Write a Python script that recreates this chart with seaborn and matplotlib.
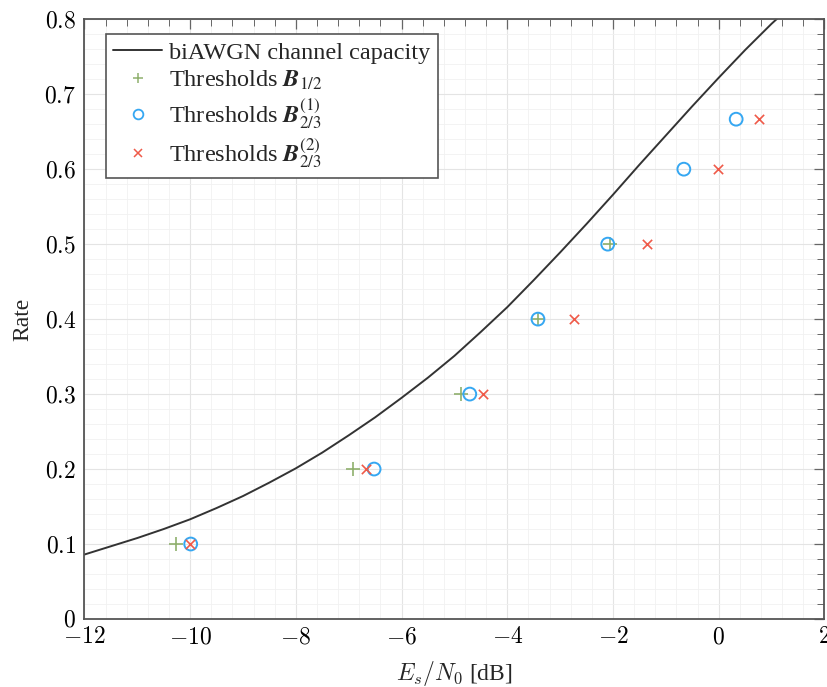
import numpy as np
import seaborn as sns
import matplotlib.pyplot as plt
from matplotlib.lines import Line2D
from matplotlib.font_manager import FontProperties
from matplotlib.ticker import MultipleLocator, FuncFormatter

# biAWGN channel capacity
cap_snr = [-12, -11.5, -11, -10.5, -10, -9.5, -9, -8.5, -8, -7.5, -7, -6.5,
           -6, -5.5, -5, -4.5, -4, -3.5, -3, -2.5, -2, -1.5, -1, -0.5,
           0, 0.5, 1, 1.5, 2]
cap_rate = [0.086, 0.097, 0.108, 0.120, 0.133, 0.148, 0.164, 0.182, 0.201,
            0.222, 0.245, 0.269, 0.295, 0.322, 0.351, 0.383, 0.416, 0.452,
            0.489, 0.527, 0.566, 0.606, 0.645, 0.684, 0.722, 0.759, 0.794,
            0.826, 0.856]

# decoding thresholds
b12_snr = [-10.27, -6.92, -4.88, -3.42, -2.06]
b12_rate = [0.1, 0.2, 0.3, 0.4, 0.5]
b23a_snr = [-9.99, -6.52, -4.71, -3.42, -2.10, -0.66, 0.33]
b23a_rate = [0.1, 0.2, 0.3, 0.4, 0.5, 0.6, 2 / 3]
b23b_snr = [-10.0, -6.67, -4.46, -2.74, -1.36, -0.01, 0.76]
b23b_rate = [0.1, 0.2, 0.3, 0.4, 0.5, 0.6, 2 / 3]

green = '#8fb06d'
blue = '#35a7f2'
red = '#ef5a49'

sns.set_style('white')
plt.rcParams['font.family'] = ['Liberation Serif', 'DejaVu Serif']
plt.rcParams['mathtext.fontset'] = 'cm'

fig = plt.figure(figsize=(8.28, 6.87), dpi=100)
ax = fig.add_axes([0.102, 0.099, 0.8937, 0.873])

sns.lineplot(x=cap_snr, y=cap_rate, ax=ax, color='#333333', lw=1.4,
             sort=False, estimator=None, legend=False)
sns.scatterplot(x=b12_snr, y=b12_rate, ax=ax, marker='+', color=green,
                s=90, linewidth=1.2, zorder=5, legend=False)
sns.scatterplot(x=b23a_snr, y=b23a_rate, ax=ax, marker='o', fc='none',
                ec=blue, s=85, linewidth=1.4, zorder=6, legend=False)
sns.scatterplot(x=b23b_snr, y=b23b_rate, ax=ax, marker='x', color=red,
                s=45, linewidth=1.2, zorder=7, legend=False)

ax.set_xlim(-12, 2)
ax.set_ylim(0, 0.8)
ax.xaxis.set_major_locator(MultipleLocator(2))
ax.xaxis.set_minor_locator(MultipleLocator(0.4))
ax.yaxis.set_major_locator(MultipleLocator(0.1))
ax.yaxis.set_minor_locator(MultipleLocator(0.02))


def fmt(v, pos):
    s = '0' if abs(v) < 1e-9 else f'{v:g}'
    return '$' + s + '$'


ax.xaxis.set_major_formatter(FuncFormatter(fmt))
ax.yaxis.set_major_formatter(FuncFormatter(fmt))

ax.grid(which='major', color='#e4e4e4', lw=0.8)
ax.grid(which='minor', color='#f1f1f1', lw=0.6)
ax.set_axisbelow(True)
ax.tick_params(which='both', direction='in', top=True, right=True,
               colors='#666666', labelcolor='black', labelsize=17)
ax.tick_params(which='major', length=7, width=0.9, pad=6)
ax.tick_params(which='minor', length=5, width=0.7)
for sp in ax.spines.values():
    sp.set_color('#555555')
    sp.set_linewidth(1.3)

ax.set_xlabel('$E_s/N_0$ [dB]', fontsize=17, labelpad=8)
ax.set_ylabel('Rate', fontsize=17, labelpad=8)

handles = [
    Line2D([0], [0], color='#333333', lw=1.4),
    Line2D([0], [0], ls='none', marker='+', color=green, ms=7, mew=1.1),
    Line2D([0], [0], ls='none', marker='o', mfc='none', mec=blue, ms=7,
           mew=1.3),
    Line2D([0], [0], ls='none', marker='x', color=red, ms=5.5, mew=1.1),
]
labels = [
    'biAWGN channel capacity',
    r'Thresholds $\boldsymbol{B}_{1/2}$',
    r'Thresholds $\boldsymbol{B}_{2/3}^{(1)}$',
    r'Thresholds $\boldsymbol{B}_{2/3}^{(2)}$',
]
prop = FontProperties(family='Liberation Serif', size=17.5,
                      math_fontfamily='stix')
leg = ax.legend(handles, labels, loc='upper left', prop=prop,
                bbox_to_anchor=(0.029, 0.975), borderaxespad=0,
                frameon=True, fancybox=False, edgecolor='#555555',
                framealpha=1, borderpad=0.3, handlelength=2.0,
                handletextpad=0.3, labelspacing=0.22)
leg.get_frame().set_linewidth(1.2)

fig.savefig('out.png', dpi=100)
